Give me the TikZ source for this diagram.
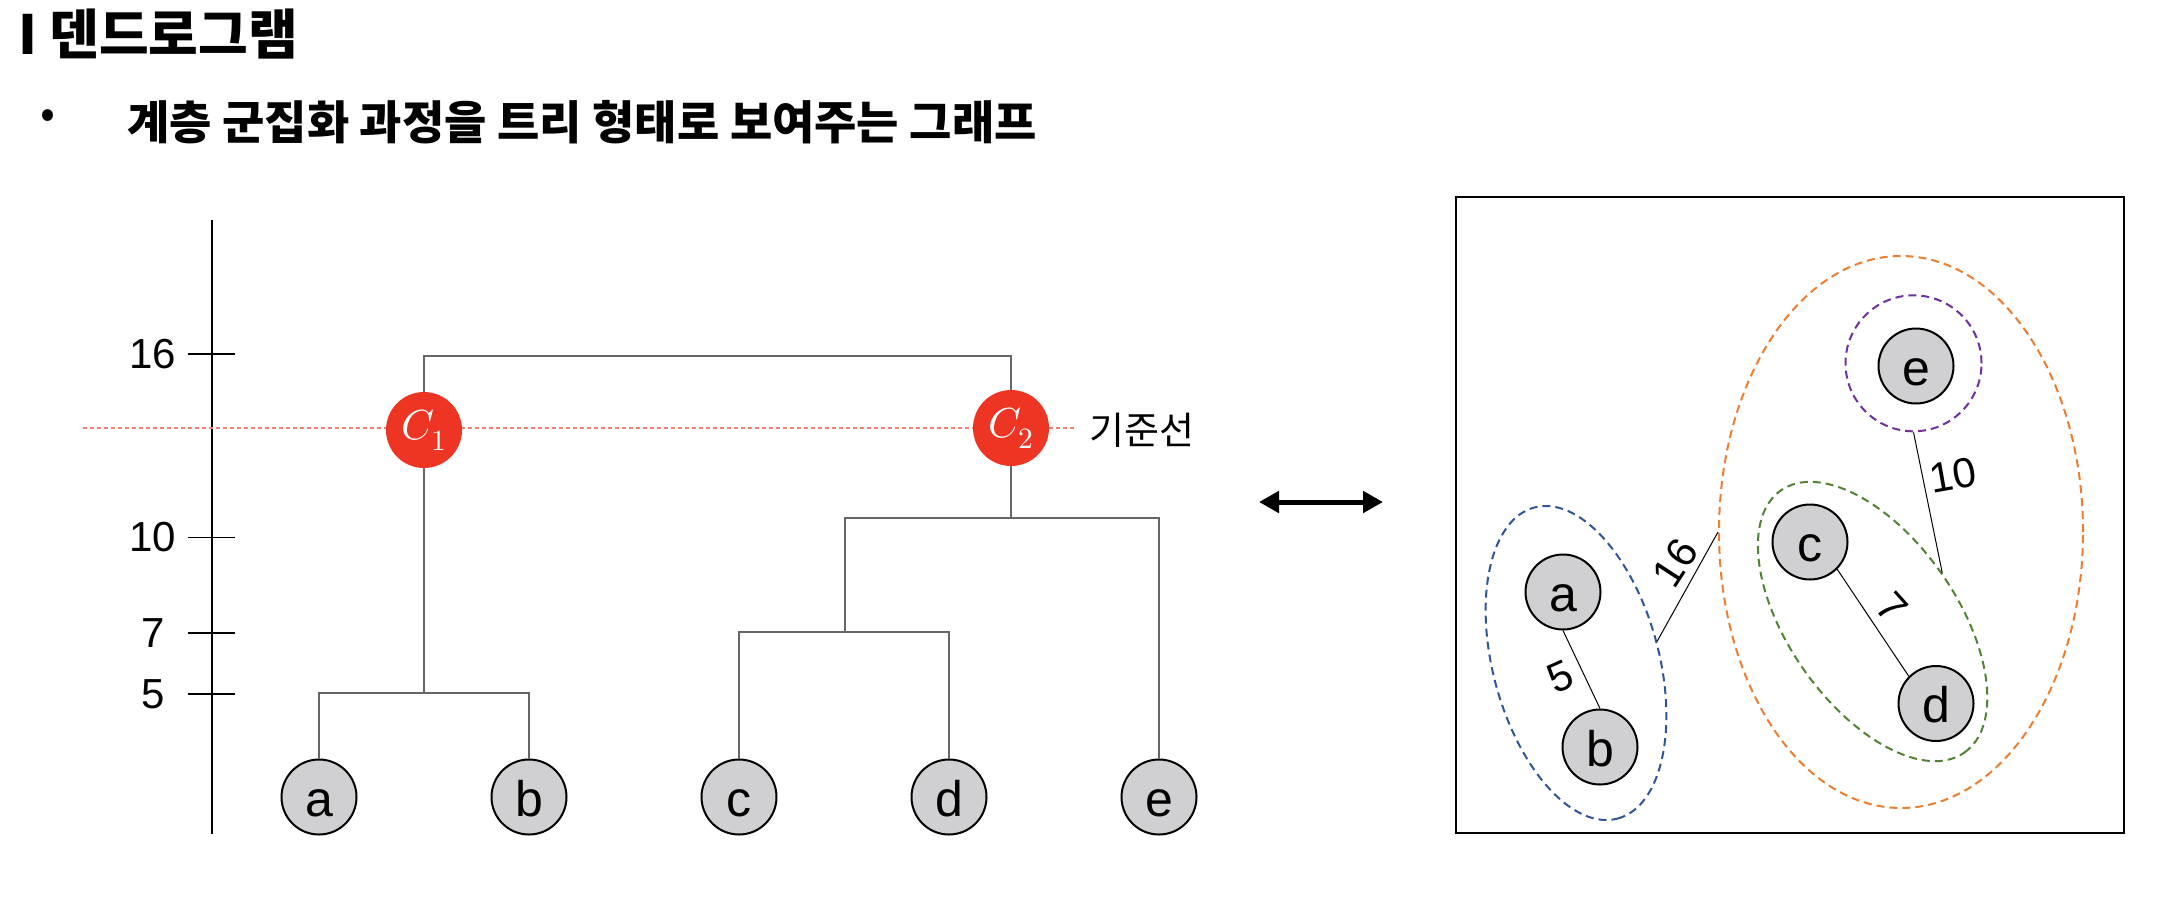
\documentclass[tikz,border=0pt]{standalone}
\usepackage{fontspec}
\usepackage{unicode-math}
\setmainfont{Liberation Sans}
\newfontfamily\kr{Noto Sans CJK KR}
\usepackage{tikz}
\usetikzlibrary{arrows.meta,shapes.geometric}
\definecolor{leafgray}{RGB}{208,207,209}
\definecolor{cred}{RGB}{238,53,36}
\definecolor{cutred}{RGB}{240,128,114}
\definecolor{cblue}{RGB}{47,85,151}
\definecolor{cgreen}{RGB}{84,130,53}
\definecolor{corange}{RGB}{237,125,49}
\definecolor{cpurple}{RGB}{112,48,160}

\begin{document}
\begin{tikzpicture}[x=1pt,y=-1pt,
    leaf/.style={circle,draw,line width=2pt,fill=leafgray,minimum size=75pt,inner sep=0pt,
        font=\fontsize{50}{60}\selectfont,text height=38pt,text depth=0pt},
    cnode/.style={circle,fill=cred,minimum size=76pt,inner sep=0pt,text=white,font=\fontsize{42}{50}\selectfont},
    dline/.style={line width=1.6pt,draw=black!60},
    num/.style={inner sep=0pt,font=\fontsize{42}{50}\selectfont},
    grp/.style={ellipse,draw,line width=2pt,dash pattern=on 8pt off 5pt,inner sep=0pt},
    wt/.style={line width=1pt}]
\useasboundingbox (0,0) rectangle (2166,906);

\node[anchor=base west,inner sep=0pt,font=\kr\bfseries\fontsize{54}{64}\selectfont] (title) at (18,54) {I 덴드로그램};
\node[inner sep=0pt,font=\kr\fontsize{44}{52}\selectfont] (bullet) at (48,119) {•};
\node[anchor=base west,inner sep=0pt,font=\kr\bfseries\fontsize{46}{55}\selectfont] (sub) at (127,139) {계층 군집화 과정을 트리 형태로 보여주는 그래프};

\coordinate (axtop) at (212,220);
\coordinate (axbot) at (212,834);
\draw[line width=1.3pt] (axtop) -- (axbot);
\foreach \v/\y in {16/354,10/537.5,7/633,5/694}{
    \draw[line width=1.3pt] (188,\y) -- (235,\y);
    \node[num] (tick\v) at (153,\y) {\v};
}

\coordinate (cutL) at (83,428);
\coordinate (cutR) at (1075,428);
\draw[cutred,line width=1.6pt,dash pattern=on 4pt off 3pt] (cutL) -- (cutR);
\node[anchor=west,inner sep=0pt,font=\kr\fontsize{38}{45}\selectfont] (cutlbl) at (1089,430) {기준선};

\foreach \n/\x in {a/319,b/529,c/739,d/949,e/1159}
    \node[leaf] (\n) at (\x,797) {\n};
\node[cnode] (c1) at (424,430) {$C_1$};
\node[cnode] (c2) at (1011,428) {$C_2$};

\coordinate (m5) at (424,693);
\coordinate (m7) at (845,632);
\coordinate (m10) at (1011,518);
\coordinate (m16) at (424,356);
\draw[dline] (a) |- (m5) -| (b);
\draw[dline] (c) |- (m7) -| (d);
\draw[dline] (m7) |- (m10) -| (e);
\draw[dline] (m5) -- (c1);
\draw[dline] (m10) -- (c2);
\draw[dline] (c1) -- (m16) -| (c2);

\coordinate (arL) at (1259,502);
\coordinate (arR) at (1383,502);
\draw[{Triangle[width=21pt,length=20pt]}-{Triangle[width=21pt,length=20pt]},line width=5pt] (arL) -- (arR);

\node[draw,line width=2.2pt,minimum width=668pt,minimum height=636pt,inner sep=0pt] (box) at (1790,515.3) {};

\node[grp,draw=cblue,minimum width=322pt,minimum height=166pt,rotate=-75] (gab) at (1576,663) {};
\node[grp,draw=cgreen,minimum width=320pt,minimum height=168pt,rotate=-55] (gcd) at (1872.6,621.5) {};
\node[grp,draw=corange,minimum width=364pt,minimum height=552pt] (gcde) at (1901,532) {};
\node[grp,circle,draw=cpurple,minimum size=136pt] (ge) at (1913.5,363.3) {};

\node[leaf] (ra) at (1563,592) {a};
\node[leaf] (rb) at (1600,747) {b};
\node[leaf] (rc) at (1810,542) {c};
\node[leaf] (rd) at (1936,703.5) {d};
\node[leaf] (re) at (1916,366) {e};

\draw[wt] (ra.south) -- (rb.north);
\draw[wt] (rc.south east) -- (rd.north west);
\draw[wt] (ge.south) -- (gcd.north);
\draw[wt] (gab.north) -- (gcde.west);
\node[num,rotate=24] (w5) at (1560,677) {5};
\node[num,rotate=-48] (w7) at (1892,607) {7};
\node[num,rotate=10] (w10) at (1953,475) {10};
\node[num,rotate=57] (w16) at (1675,563) {16};
\end{tikzpicture}
\end{document}
